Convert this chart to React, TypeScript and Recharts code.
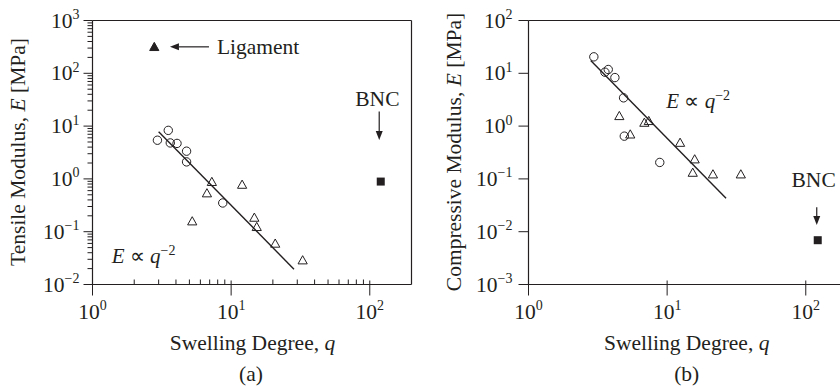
import React from "react";
import { ScatterChart, Scatter, XAxis, YAxis, ReferenceLine, ReferenceDot } from "recharts";

const INK = "#231f20";
const FONT = "'Liberation Serif', 'Times New Roman', serif";

// (a) tensile modulus vs swelling degree
const tensileCircleQ = [2.94, 3.52, 3.64, 4.07, 4.77, 4.77, 8.7];
const tensileCircleE = [5.4, 8.3, 4.8, 4.7, 3.35, 2.1, 0.35];
const tensileTriangleQ = [5.24, 6.69, 7.26, 12.0, 14.7, 15.3, 20.8, 32.8];
const tensileTriangleE = [0.156, 0.53, 0.87, 0.77, 0.183, 0.122, 0.059, 0.0285];
const ligamentQ = [2.79];
const ligamentE = [313];
const tensileBncQ = [120];
const tensileBncE = [0.89];
const tensileFitQ = [3.0, 28.4];
const tensileFitE = [7.85, 0.0195];

// (b) compressive modulus vs swelling degree
const compCircleQ = [2.96, 3.56, 3.76, 4.2, 4.85, 4.91, 8.85];
const compCircleE = [20.5, 10.5, 11.8, 8.3, 3.43, 0.645, 0.205];
const compTriangleQ = [4.52, 5.42, 6.85, 7.37, 12.4, 15.8, 15.3, 21.4, 34];
const compTriangleE = [1.54, 0.69, 1.15, 1.24, 0.48, 0.233, 0.13, 0.121, 0.121];
const compBncQ = [122];
const compBncE = [0.0069];
const compFitQ = [2.81, 26.6];
const compFitE = [17.4, 0.0428];

// axis ticks
const qMajor = [1, 10, 100];
const tensileMajor = [0.01, 0.1, 1, 10, 100, 1000];
const compMajor = [0.001, 0.01, 0.1, 1, 10, 100];

const pts = (qs: number[], es: number[]) => qs.map((q, i) => ({ q, E: es[i] }));
const withMinors = (majors: number[]) => {
  const out: number[] = [];
  majors.forEach((m, i) => {
    out.push(m);
    if (i < majors.length - 1) for (let k = 2; k <= 9; k++) out.push(+(m * k).toPrecision(3));
  });
  return out;
};

const isMajor = (v: number) => {
  const e = Math.log10(v);
  return Math.abs(e - Math.round(e)) < 1e-6;
};

function Power({ x, y, v, anchor }: { x: number; y: number; v: number; anchor: "middle" | "end" }) {
  const e = Math.round(Math.log10(v));
  return (
    <text x={x} y={y} textAnchor={anchor} fontFamily={FONT} fontSize={21.5} fill={INK}>
      10
      <tspan dy={-8.5} fontSize={14}>
        {e < 0 ? "\u2212" + -e : String(e)}
      </tspan>
    </text>
  );
}

type TickOpts = { majorIn: number; majorOut: number; minorIn: number; minorOut: number; gap: number };

const xTick = (o: TickOpts) => (p: any) => {
  const v = p.payload.value;
  const major = isMajor(v);
  return (
    <g>
      <line x1={p.x} x2={p.x} y1={p.y - (major ? o.majorIn : o.minorIn)} y2={p.y + (major ? o.majorOut : o.minorOut)} stroke={INK} strokeWidth={1} />
      {major && <Power x={p.x} y={p.y + o.gap} v={v} anchor="middle" />}
    </g>
  );
};

const yTick = (o: TickOpts) => (p: any) => {
  const v = p.payload.value;
  const major = isMajor(v);
  return (
    <g>
      <line x1={p.x - (major ? o.majorOut : o.minorOut)} x2={p.x + (major ? o.majorIn : o.minorIn)} y1={p.y} y2={p.y} stroke={INK} strokeWidth={1} />
      {major && <Power x={p.x - o.gap} y={p.y + 7} v={v} anchor="end" />}
    </g>
  );
};

const OpenCircle = (p: any) => <circle cx={p.cx} cy={p.cy} r={4.2} fill="none" stroke={INK} strokeWidth={1} />;
const triangle = (filled: boolean) => (p: any) => (
  <polygon
    points={`${p.cx},${p.cy - 4.8} ${p.cx - 4.6},${p.cy + 3.4} ${p.cx + 4.6},${p.cy + 3.4}`}
    fill={filled ? INK : "none"}
    stroke={INK}
    strokeWidth={1}
  />
);
const Square = (p: any) => <rect x={p.cx - 4} y={p.cy - 4} width={8} height={8} fill={INK} />;
const NoDot = () => <g />;

const Arrow = (p: any) => {
  const { x1, y1, x2, y2 } = p;
  const len = Math.hypot(x2 - x1, y2 - y1) || 1;
  const ux = (x2 - x1) / len;
  const uy = (y2 - y1) / len;
  const hl = 9;
  const hw = 3.5;
  const bx = x2 - ux * hl;
  const by = y2 - uy * hl;
  return (
    <g>
      <line x1={x1} y1={y1} x2={bx} y2={by} stroke={INK} strokeWidth={1.2} />
      <polygon points={`${x2},${y2} ${bx - uy * hw},${by + ux * hw} ${bx + uy * hw},${by - ux * hw}`} fill={INK} />
    </g>
  );
};

const label = (text: string, anchor: "start" | "middle" = "start") => (p: any) => (
  <text x={p.cx} y={p.cy} textAnchor={anchor} fontFamily={FONT} fontSize={21.5} fill={INK}>
    {text}
  </text>
);

const Formula = (p: any) => (
  <text x={p.cx} y={p.cy} fontFamily={FONT} fontSize={21} fill={INK}>
    <tspan fontStyle="italic">E</tspan>
    <tspan> ∝ </tspan>
    <tspan fontStyle="italic">q</tspan>
    <tspan dy={-8} fontSize={14}>
      {"\u22122"}
    </tspan>
  </text>
);

const tickA: TickOpts = { majorIn: 4, majorOut: 11, minorIn: 5, minorOut: 0, gap: 34 };
const tickAY: TickOpts = { majorIn: 0, majorOut: 9, minorIn: 0, minorOut: 5, gap: 13 };
const tickB: TickOpts = { majorIn: 4, majorOut: 11, minorIn: 0, minorOut: 0, gap: 34 };
const tickBY: TickOpts = { majorIn: 0, majorOut: 10, minorIn: 0, minorOut: 0, gap: 16 };

export default function App() {
  return (
    <div style={{ position: "absolute", left: 0, top: 0, width: 840, height: 387, overflow: "hidden", background: "#fff" }}>
      <div style={{ position: "absolute", left: 0, top: 0 }}>
        <ScatterChart width={420} height={387} margin={{ top: 20.5, right: 8.5, bottom: 0, left: 0 }}>
          <XAxis
            dataKey="q"
            type="number"
            scale="log"
            domain={[1, 200]}
            allowDataOverflow
            ticks={withMinors(qMajor)}
            interval={0}
            height={102.5}
            tickSize={0}
            tickMargin={0}
            tickLine={false}
            axisLine={{ stroke: INK, strokeWidth: 1.2 }}
            tick={xTick(tickA)}
          />
          <YAxis
            dataKey="E"
            type="number"
            scale="log"
            domain={[0.01, 1000]}
            allowDataOverflow
            ticks={withMinors(tensileMajor)}
            interval={0}
            width={92.5}
            tickSize={0}
            tickMargin={0}
            tickLine={false}
            axisLine={{ stroke: INK, strokeWidth: 1.2 }}
            tick={yTick(tickAY)}
          />
          <ReferenceLine y={1000} stroke={INK} strokeWidth={1.2} ifOverflow="visible" />
          <ReferenceLine x={200} stroke={INK} strokeWidth={1.2} ifOverflow="visible" />
          <Scatter data={pts(tensileFitQ, tensileFitE)} line={{ stroke: INK, strokeWidth: 1.4 }} shape={NoDot} isAnimationActive={false} />
          <Scatter data={pts(tensileCircleQ, tensileCircleE)} shape={OpenCircle} isAnimationActive={false} />
          <Scatter data={pts(tensileTriangleQ, tensileTriangleE)} shape={triangle(false)} isAnimationActive={false} />
          <Scatter data={pts(ligamentQ, ligamentE)} shape={triangle(true)} isAnimationActive={false} />
          <Scatter data={pts(tensileBncQ, tensileBncE)} shape={Square} isAnimationActive={false} />
          <ReferenceLine segment={[{ x: 6.92, y: 317 }, { x: 3.62, y: 317 }]} shape={Arrow} ifOverflow="visible" />
          <ReferenceDot x={7.9} y={233} r={0} shape={label("Ligament")} ifOverflow="visible" />
          <ReferenceLine segment={[{ x: 117, y: 18.8 }, { x: 117, y: 5.46 }]} shape={Arrow} ifOverflow="visible" />
          <ReferenceDot x={113.5} y={23.6} r={0} shape={label("BNC", "middle")} ifOverflow="visible" />
          <ReferenceDot x={1.375} y={0.0261} r={0} shape={Formula} ifOverflow="visible" />
        </ScatterChart>
      </div>
      <div style={{ position: "absolute", left: 420, top: 0 }}>
        <ScatterChart width={440} height={387} margin={{ top: 20.5, right: 12.5, bottom: 0, left: 0 }}>
          <XAxis
            dataKey="q"
            type="number"
            scale="log"
            domain={[1, 200]}
            allowDataOverflow
            ticks={qMajor}
            interval={0}
            height={102.5}
            tickSize={0}
            tickMargin={0}
            tickLine={false}
            axisLine={{ stroke: INK, strokeWidth: 1.2 }}
            tick={xTick(tickB)}
          />
          <YAxis
            dataKey="E"
            type="number"
            scale="log"
            domain={[0.001, 100]}
            allowDataOverflow
            ticks={compMajor}
            interval={0}
            width={108.5}
            tickSize={0}
            tickMargin={0}
            tickLine={false}
            axisLine={{ stroke: INK, strokeWidth: 1.2 }}
            tick={yTick(tickBY)}
          />
          <ReferenceLine y={100} stroke={INK} strokeWidth={1.2} ifOverflow="visible" />
          <Scatter data={pts(compFitQ, compFitE)} line={{ stroke: INK, strokeWidth: 1.4 }} shape={NoDot} isAnimationActive={false} />
          <Scatter data={pts(compCircleQ, compCircleE)} shape={OpenCircle} isAnimationActive={false} />
          <Scatter data={pts(compTriangleQ, compTriangleE)} shape={triangle(false)} isAnimationActive={false} />
          <Scatter data={pts(compBncQ, compBncE)} shape={Square} isAnimationActive={false} />
          <ReferenceLine segment={[{ x: 120, y: 0.0292 }, { x: 120, y: 0.01334 }]} shape={Arrow} ifOverflow="visible" />
          <ReferenceDot x={114} y={0.0701} r={0} shape={label("BNC", "middle")} ifOverflow="visible" />
          <ReferenceDot x={9.87} y={2.21} r={0} shape={Formula} ifOverflow="visible" />
        </ScatterChart>
      </div>
      <svg width={840} height={387} style={{ position: "absolute", left: 0, top: 0, pointerEvents: "none" }}>
        <g fontFamily={FONT} fontSize={21.5} fill={INK}>
          <text x={252.5} y={350} textAnchor="middle">
            Swelling Degree, <tspan fontStyle="italic">q</tspan>
          </text>
          <text x={251} y={381} textAnchor="middle">(a)</text>
          <text x={25} y={152} textAnchor="middle" transform="rotate(-90, 25, 152)">
            Tensile Modulus, <tspan fontStyle="italic">E</tspan> [MPa]
          </text>
          <text x={686.7} y={350} textAnchor="middle">
            Swelling Degree, <tspan fontStyle="italic">q</tspan>
          </text>
          <text x={686.7} y={381} textAnchor="middle">(b)</text>
          <text x={461} y={152} textAnchor="middle" transform="rotate(-90, 461, 152)">
            Compressive Modulus, <tspan fontStyle="italic">E</tspan> [MPa]
          </text>
        </g>
      </svg>
    </div>
  );
}
